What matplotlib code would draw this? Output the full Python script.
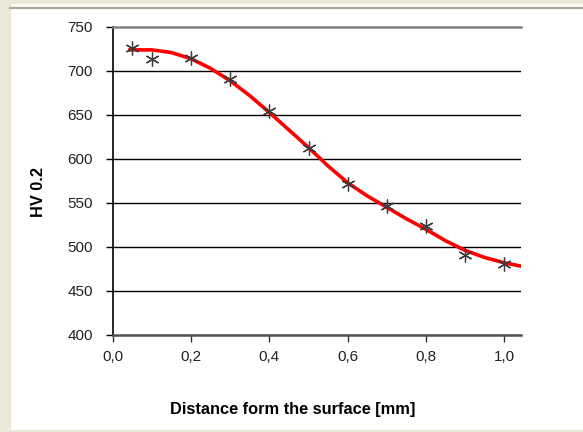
import numpy as np
import matplotlib
matplotlib.use("Agg")
import matplotlib.pyplot as plt
from matplotlib.patches import Rectangle
from matplotlib.lines import Line2D

# measured hardness points
distance = [0.05, 0.1, 0.2, 0.3, 0.4, 0.5, 0.6, 0.7, 0.8, 0.9, 1.0]
hardness = [726, 714, 715, 691, 654, 613, 572, 547, 524, 491, 481]

# red trend curve
trend_x = [0.04, 0.10, 0.15, 0.20, 0.25, 0.30, 0.35, 0.40, 0.45, 0.50, 0.55,
           0.60, 0.65, 0.70, 0.75, 0.80, 0.85, 0.90, 0.95, 1.00, 1.045]
trend_hv = [724, 724, 721, 714, 703, 689, 672, 653, 633, 613, 592,
            573, 558, 545, 532, 520, 507, 496, 488, 482, 478]

x_ticks = [0.0, 0.2, 0.4, 0.6, 0.8, 1.0]
x_tick_labels = ["0,0", "0,2", "0,4", "0,6", "0,8", "1,0"]
y_ticks = [400, 450, 500, 550, 600, 650, 700, 750]

plt.rcParams['font.family'] = ['Liberation Sans', 'DejaVu Sans']

W, H = 583, 432
fig = plt.figure(figsize=(W / 100, H / 100), dpi=100)
fig.patch.set_facecolor('white')

# window-like frame
beige = '#ECE9D8'
fig.add_artist(Rectangle((0, 0), 10 / W, 1, transform=fig.transFigure, color=beige, zorder=0))
fig.add_artist(Rectangle((0, 1 - 3 / H), 1, 3 / H, transform=fig.transFigure, color=beige, zorder=0))
fig.add_artist(Rectangle((0, 0), 1, 2 / H, transform=fig.transFigure, color=beige, zorder=0))
fig.add_artist(Line2D([10 / W, 1], [1 - 7.5 / H, 1 - 7.5 / H], transform=fig.transFigure,
                      color='#ACA899', lw=1.6))

left, right, top, bottom = 112.5, 520.5, 27, 335
ax = fig.add_axes([left / W, (H - bottom) / H, (right - left) / W, (bottom - top) / H])
ax.set_xlim(0, (right - left) / 392.0)
ax.set_ylim(400, 750)

for yv in y_ticks[1:-1]:
    ax.axhline(yv, color='black', lw=1.0, zorder=1)

ax.spines['top'].set_color('#808080')
ax.spines['top'].set_linewidth(1.8)
ax.spines['bottom'].set_color('#505050')
ax.spines['bottom'].set_linewidth(1.8)
ax.spines['left'].set_color('black')
ax.spines['left'].set_linewidth(1.2)
ax.spines['right'].set_visible(False)

ax.plot(trend_x, trend_hv, color='#FF0000', lw=2.6, zorder=3,
        solid_capstyle='butt', solid_joinstyle='round')

ax.plot(distance, hardness, linestyle='none', marker=(6, 2, 0), markersize=10,
        markeredgecolor='#3a3a3a', markeredgewidth=0.9, zorder=4)

ax.set_xticks(x_ticks)
ax.set_xticklabels(x_tick_labels)
ax.set_yticks(y_ticks)
ax.tick_params(axis='x', direction='out', length=5, width=1, pad=5.5,
               labelsize=11, labelcolor='#222222', color='#333333')
ax.tick_params(axis='y', direction='out', length=5, width=1, pad=9,
               labelsize=11, labelcolor='#222222')

ax.set_xlabel('Distance form the surface [mm]', fontsize=11.8, fontweight='bold')
ax.xaxis.set_label_coords((293 - left) / (right - left), (bottom - 402) / (bottom - top))
ax.set_ylabel('HV 0.2', fontsize=11.8, fontweight='bold')
ax.yaxis.set_label_coords((46 - left) / (right - left), (bottom - 192) / (bottom - top))

fig.savefig('out.png', dpi=100)
